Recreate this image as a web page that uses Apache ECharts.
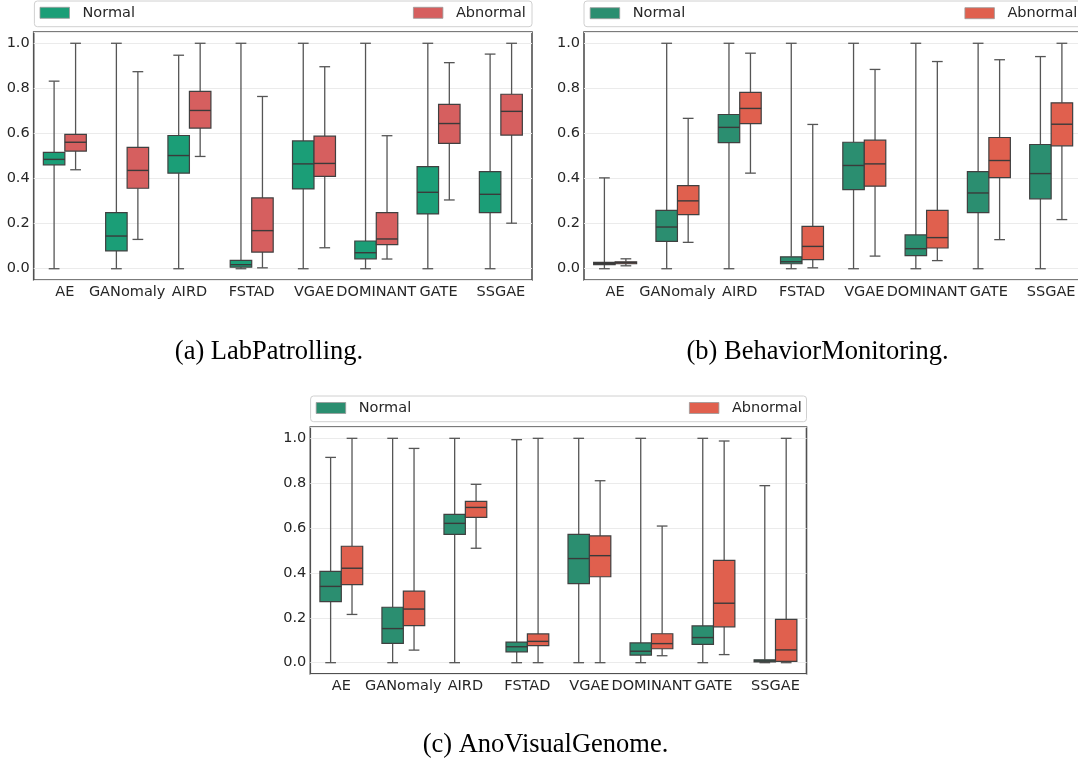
<!DOCTYPE html>
<html>
<head>
<meta charset="utf-8">
<script src="https://cdn.jsdelivr.net/npm/echarts@6/dist/echarts.min.js"></script>
<style>
html,body{margin:0;padding:0;background:#fff;}
#chart{width:1078px;height:764px;}
</style>
</head>
<body>
<div id="chart"></div>
<script>
// ---- data: five-number summaries [min, q1, median, q3, max] ----
const categories = ['AE', 'GANomaly', 'AIRD', 'FSTAD', 'VGAE', 'DOMINANT', 'GATE', 'SSGAE'];
const seriesNames = ['Normal', 'Abnormal'];
const captions = ['(a) LabPatrolling.', '(b) BehaviorMonitoring.', '(c) AnoVisualGenome.'];

const labNormal = [
  [0, 0.461, 0.485, 0.516, 0.832],
  [0, 0.079, 0.145, 0.249, 1.0],
  [0, 0.424, 0.502, 0.591, 0.947],
  [0, 0.007, 0.018, 0.037, 1.0],
  [0, 0.354, 0.465, 0.567, 1.0],
  [0, 0.044, 0.071, 0.123, 1.0],
  [0, 0.243, 0.339, 0.453, 1.0],
  [0, 0.249, 0.330, 0.431, 0.952]
];
const labAbnormal = [
  [0.439, 0.522, 0.561, 0.596, 1.0],
  [0.130, 0.357, 0.436, 0.538, 0.874],
  [0.498, 0.624, 0.702, 0.787, 1.0],
  [0.004, 0.074, 0.169, 0.314, 0.764],
  [0.093, 0.410, 0.467, 0.588, 0.896],
  [0.043, 0.107, 0.132, 0.249, 0.590],
  [0.305, 0.556, 0.644, 0.729, 0.914],
  [0.202, 0.593, 0.698, 0.774, 1.0]
];

const behNormal = [
  [0, 0.018, 0.024, 0.028, 0.403],
  [0, 0.121, 0.185, 0.259, 1.0],
  [0, 0.559, 0.627, 0.684, 1.0],
  [0, 0.022, 0.031, 0.053, 1.0],
  [0, 0.351, 0.458, 0.561, 1.0],
  [0, 0.058, 0.089, 0.150, 1.0],
  [0, 0.249, 0.336, 0.431, 1.0],
  [0, 0.310, 0.422, 0.551, 0.941]
];
const behAbnormal = [
  [0.013, 0.022, 0.027, 0.031, 0.044],
  [0.117, 0.240, 0.301, 0.369, 0.667],
  [0.424, 0.644, 0.711, 0.782, 0.956],
  [0.004, 0.040, 0.099, 0.188, 0.640],
  [0.056, 0.366, 0.465, 0.570, 0.884],
  [0.036, 0.092, 0.138, 0.259, 0.919],
  [0.129, 0.404, 0.480, 0.582, 0.927],
  [0.218, 0.545, 0.641, 0.736, 1.0]
];

const aviNormal = [
  [0, 0.272, 0.340, 0.407, 0.915],
  [0, 0.086, 0.152, 0.247, 1.0],
  [0, 0.572, 0.621, 0.661, 1.0],
  [0, 0.048, 0.071, 0.092, 0.994],
  [0, 0.352, 0.464, 0.572, 1.0],
  [0, 0.034, 0.051, 0.088, 1.0],
  [0, 0.082, 0.112, 0.164, 1.0],
  [0, 0.004, 0.008, 0.013, 0.789]
];
const aviAbnormal = [
  [0.215, 0.348, 0.421, 0.519, 1.0],
  [0.056, 0.165, 0.239, 0.319, 0.955],
  [0.510, 0.648, 0.692, 0.719, 0.795],
  [0, 0.076, 0.095, 0.128, 1.0],
  [0, 0.383, 0.477, 0.565, 0.811],
  [0.031, 0.062, 0.085, 0.129, 0.609],
  [0.036, 0.160, 0.265, 0.456, 0.988],
  [0, 0.006, 0.057, 0.193, 1.0]
];

// ---- styling / layout ----
const FONT = 'DejaVu Sans';
const TXT = '#262626';
const panels = [
  { normal: labNormal, abnormal: labAbnormal, colors: ['#1b9e77', '#d65f5f'],
    grid: { left: 33.7, top: 32, width: 498.3, height: 248 },
    legendBox: { x: 34.4, y: 1, w: 497.6, h: 25.7 },
    legN: { left: 39.6, top: 4.8 }, legA: { left: 413, top: 4.8 },
    caption: { x: 269, y: 352 } },
  { normal: behNormal, abnormal: behAbnormal, colors: ['#2b8e70', '#e0604e'],
    grid: { left: 584, top: 32, width: 498.3, height: 248 },
    legendBox: { x: 584, y: 1, w: 498, h: 25.7 },
    legN: { left: 589.8, top: 5.2 }, legA: { left: 964.5, top: 5.2 },
    caption: { x: 817.5, y: 352 } },
  { normal: aviNormal, abnormal: aviAbnormal, colors: ['#2b8e70', '#e0604e'],
    grid: { left: 310.3, top: 427.1, width: 496.2, height: 246.8 },
    legendBox: { x: 310.6, y: 396, w: 495.9, h: 25.7 },
    legN: { left: 315.8, top: 400 }, legA: { left: 689, top: 400 },
    caption: { x: 545.5, y: 745 } }
];

function makeRender(offsetFrac, fill) {
  return function (params, api) {
    const xi = api.value(0);
    const band = api.size([1, 0])[0];
    const cx = api.coord([xi, 0])[0] + offsetFrac * band;
    const w = band * 0.345;
    const yy = (k) => api.coord([xi, api.value(k)])[1];
    const yMin = yy(1), yQ1 = yy(2), yMed = yy(3), yQ3 = yy(4), yMax = yy(5);
    const cap = w / 2;
    const wl = { stroke: '#555555', lineWidth: 1.3 };
    return {
      type: 'group',
      children: [
        { type: 'line', shape: { x1: cx, y1: yQ3, x2: cx, y2: yMax }, style: wl },
        { type: 'line', shape: { x1: cx, y1: yQ1, x2: cx, y2: yMin }, style: wl },
        { type: 'line', shape: { x1: cx - cap / 2, y1: yMax, x2: cx + cap / 2, y2: yMax }, style: wl },
        { type: 'line', shape: { x1: cx - cap / 2, y1: yMin, x2: cx + cap / 2, y2: yMin }, style: wl },
        { type: 'rect', shape: { x: cx - w / 2, y: yQ3, width: w, height: Math.max(yQ1 - yQ3, 0.5) },
          style: { fill: fill, stroke: '#404040', lineWidth: 1.2 } },
        { type: 'line', shape: { x1: cx - w / 2, y1: yMed, x2: cx + w / 2, y2: yMed },
          style: { stroke: '#3a3a3a', lineWidth: 1.4 } }
      ]
    };
  };
}

const option = {
  backgroundColor: '#ffffff',
  animation: false,
  grid: [], xAxis: [], yAxis: [], series: [], legend: [], graphic: []
};

panels.forEach((p, pi) => {
  option.grid.push(Object.assign({ show: true, borderColor: '#505050', borderWidth: 1.6,
    backgroundColor: 'transparent', containLabel: false, outerBoundsMode: 'none' }, p.grid));
  option.xAxis.push({
    type: 'category', gridIndex: pi, data: categories, boundaryGap: true,
    axisLine: { show: false }, axisTick: { show: false },
    splitLine: { show: false },
    axisLabel: { interval: 0, hideOverlap: false, color: TXT, fontFamily: FONT, fontSize: 14.5, margin: 5 }
  });
  option.yAxis.push({
    type: 'value', gridIndex: pi, min: -0.05, max: 1.05, splitNumber: 5,
    axisLine: { show: false }, axisTick: { show: false },
    splitLine: { show: true, lineStyle: { color: '#ebebeb', width: 1 } },
    axisLabel: { showMinLabel: false, showMaxLabel: false, color: TXT, fontFamily: FONT,
      fontSize: 14.5, margin: 4, formatter: (v) => v.toFixed(1) }
  });
  [p.normal, p.abnormal].forEach((arr, si) => {
    option.series.push({
      type: 'custom', name: seriesNames[si], xAxisIndex: pi, yAxisIndex: pi,
      itemStyle: { color: p.colors[si] },
      encode: { x: 0, y: [1, 2, 3, 4, 5] },
      renderItem: makeRender(si === 0 ? -0.1725 : 0.1725, p.colors[si]),
      data: arr.map((d, i) => [i].concat(d)),
      z: 3
    });
  });
  const legBase = {
    orient: 'horizontal', padding: 0, itemWidth: 29.5, itemHeight: 11, icon: 'rect',
    selectedMode: false,
    itemStyle: { borderColor: '#999999', borderWidth: 0.8 },
    textStyle: { color: TXT, fontFamily: FONT, fontSize: 14.5, lineHeight: 16, padding: [0, 0, 0, 8] }
  };
  option.legend.push(Object.assign({}, legBase, p.legN, {
    data: [{ name: seriesNames[0], itemStyle: { color: p.colors[0] } }] }));
  option.legend.push(Object.assign({}, legBase, p.legA, {
    data: [{ name: seriesNames[1], itemStyle: { color: p.colors[1] } }] }));
  option.graphic.push({
    type: 'rect', z: 0,
    shape: { x: p.legendBox.x, y: p.legendBox.y, width: p.legendBox.w, height: p.legendBox.h, r: 3 },
    style: { fill: '#ffffff', stroke: '#d0d0d0', lineWidth: 1 }
  });
  option.graphic.push({
    type: 'text', x: p.caption.x, y: p.caption.y,
    style: { text: captions[pi], fontFamily: 'Liberation Serif', fontSize: 26.5, fill: '#000000',
      align: 'center', verticalAlign: 'middle' }
  });
});

const chart = echarts.init(document.getElementById('chart'), null, { renderer: 'canvas' });
chart.setOption(option);
</script>
</body>
</html>
